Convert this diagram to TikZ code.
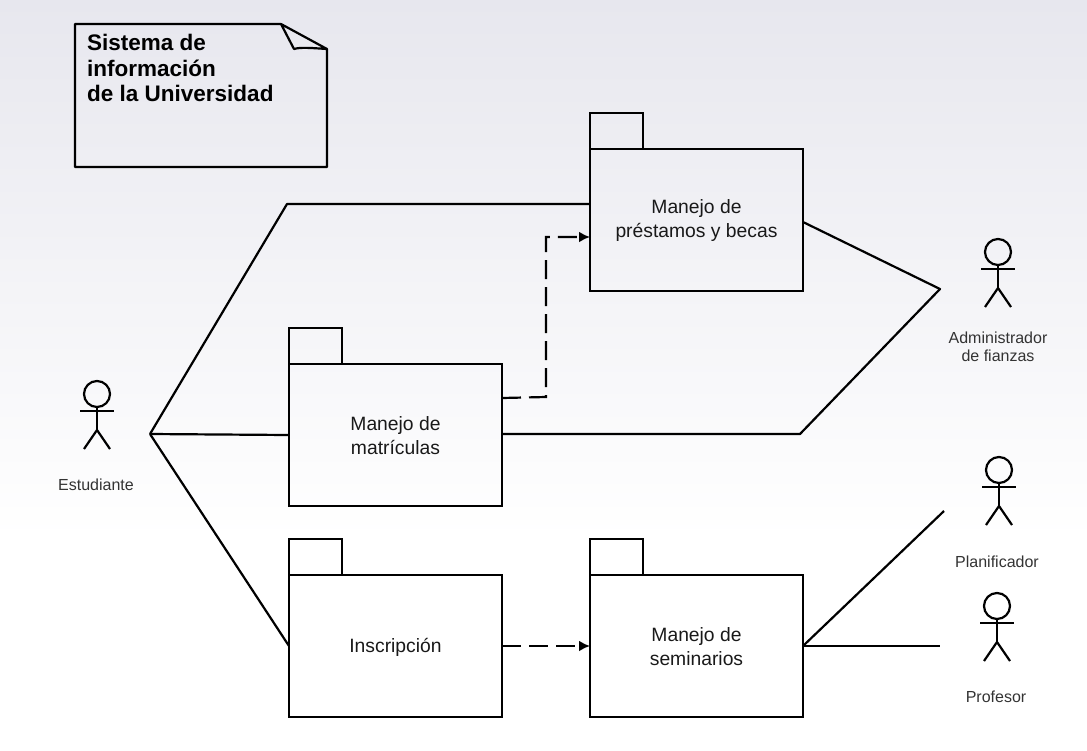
\documentclass[tikz,border=0pt]{standalone}
\usepackage{fontspec}
\setmainfont{Liberation Sans}
\usetikzlibrary{arrows.meta}
\definecolor{bgtop}{RGB}{231,231,238}
\tikzset{
    pack/.style = {draw, line width=2.4pt, minimum width=213pt, minimum height=142pt, inner sep=0pt, outer sep=0pt},
    packtab/.style = {draw, line width=2.4pt, minimum width=53pt, minimum height=36pt, inner sep=0pt, outer sep=0pt},
    packlabel/.style = {align=center, inner sep=0pt, text=black!90, font=\fontsize{19.3}{24}\selectfont},
    actorlabel/.style = {align=center, inner sep=0pt, text=black!80, font=\fontsize{16}{18.5}\selectfont},
    actorhead/.style = {draw, circle, line width=2.2pt, minimum size=26pt, inner sep=0pt, outer sep=0pt},
    link/.style = {line width=2.2pt},
    deplink/.style = {line width=2.2pt, dash pattern=on 19pt off 8pt, -{Latex[length=11pt,width=11pt]}},
}
\begin{document}
\begin{tikzpicture}[x=1pt, y=-1pt]
    \useasboundingbox (0,0) rectangle (1087,750);
    \shade [top color=bgtop, bottom color=white] (0,0) rectangle (1087,540);
    % note
    \coordinate (nA) at (75,24);
    \coordinate (nB) at (281,24);
    \coordinate (nC) at (327,49);
    \coordinate (nD) at (327,167);
    \coordinate (nE) at (75,167);
    \coordinate (nF) at (294,49);
    \draw [link, line join=round] (nB) -- (nA) -- (nE) -- (nD) -- (nC) -- (nB) -- (nF) .. controls (300,47) and (312,48) .. (nC);
    \node (title) [anchor=north west, align=left, inner sep=0pt, font=\fontsize{22.5}{25.5}\bfseries\selectfont] at (87,34) {Sistema de\\información\\de la Universidad};
    % packages
    \foreach \name/\x/\y/\txt in {
        prestamos/696.5/220/{Manejo de\\préstamos y becas},
        matriculas/395.5/435/{Manejo de\\matrículas},
        inscripcion/395.5/646/{Inscripción},
        seminarios/696.5/646/{Manejo de\\seminarios}} {
        \node (\name) [pack] at (\x,\y) {};
        \node (\name tab) [packtab, anchor=south west] at (\name.north west) {};
        \node (\name txt) [packlabel] at (\x,\y+1) {\txt};
    }
    % actors
    \foreach \name/\x/\y in {estudiante/97/394, admin/998/252, planif/999/470, profesor/997/606} {
        \node (\name) [actorhead] at (\x,\y) {};
        \coordinate (\name hip) at (\x,\y+36);
        \draw [link] (\name.south) -- (\name hip);
        \draw [link] (\x-17,\y+17) -- (\x+17,\y+17);
        \draw [link] (\x-13,\y+55) -- (\name hip) -- (\x+13,\y+55);
    }
    \node (lblest) [actorlabel] at (96,485) {Estudiante};
    \node (lbladm) [actorlabel] at (998,347) {Administrador\\de fianzas};
    \node (lblpla) [actorlabel] at (997,562) {Planificador};
    \node (lblpro) [actorlabel] at (996,697) {Profesor};
    % connectors
    \coordinate (estpt) at (150,434);
    \coordinate (admpt) at (940,289);
    \coordinate (plapt) at (944,511);
    \coordinate (propt) at (940,646);
    \draw [link, line join=round] (estpt) -- (287,204) -- (prestamos.west |- 0,204);
    \draw [link] (estpt) -- (matriculas.west);
    \draw [link] (estpt) -- (inscripcion.west);
    \draw [link, line join=round] (prestamos.east |- 0,222) -- (admpt) -- (800,434) -- (matriculas.east |- 0,434);
    \draw [link] (seminarios.east) -- (plapt);
    \draw [link] (seminarios.east) -- (propt);
    \draw [deplink] (matriculas.east |- 0,398) -- (546,397) -- (546,237) -- (prestamos.west |- 0,237);
    \draw [deplink] (inscripcion.east) -- (seminarios.west);
\end{tikzpicture}
\end{document}
